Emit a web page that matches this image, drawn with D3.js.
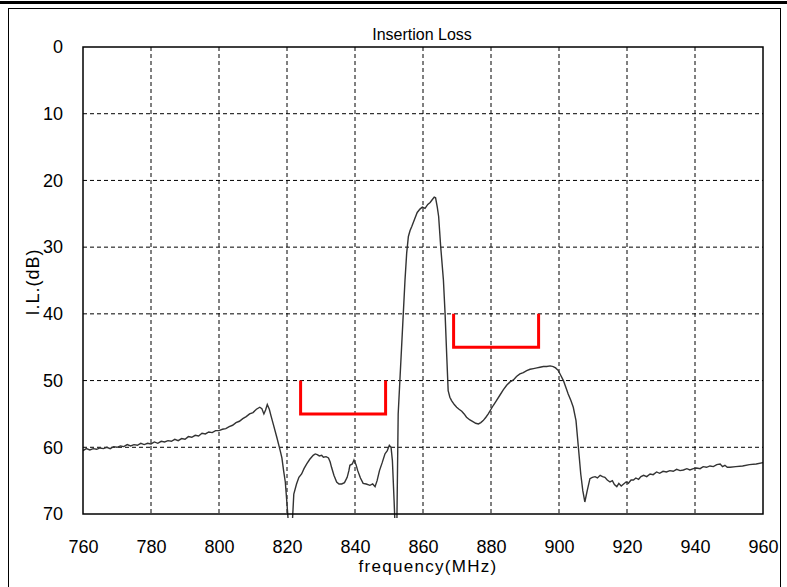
<!DOCTYPE html>
<html>
<head>
<meta charset="utf-8">
<script src="https://cdn.jsdelivr.net/npm/d3@7"></script>
<style>
  body { margin: 0; background: #fff; }
  svg text { font-family: "Liberation Sans", Arial, sans-serif; }
</style>
</head>
<body>
<svg width="787" height="587"></svg>
<script>
// frequency (MHz) and insertion loss (dB)
var freq = [760, 761, 762, 763, 764, 765, 766, 767, 768, 769, 770, 771, 772, 773, 774, 775, 776, 777, 778, 779,
  780, 781, 782, 783, 784, 785, 786, 787, 788, 789, 790, 791, 792, 793, 794, 795, 796, 797, 798, 799,
  800, 801, 802, 803, 804, 805, 806, 807, 808, 809, 810, 811, 812, 812.6, 813.2, 813.7, 814.2, 814.8, 815.3, 816,
  817, 818, 818.5, 819, 819.5, 820, 820.5, 821.5, 822, 822.8, 823.5, 824.3, 825, 825.8, 826.7, 827.7, 828.3, 828.9, 829.5, 830.2,
  830.7, 831.5, 832.2, 832.7, 833.1, 833.8, 834.6, 835.3, 836.1, 836.9, 837.7, 838.2, 838.5, 839.2, 839.7, 840.3, 840.8, 841.6, 842.4, 843.3,
  844.4, 845.2, 845.9, 846.5, 847.2, 848, 848.8, 849.5, 850.1, 850.6, 851, 851.5, 851.8, 852.3, 852.7, 853.2, 853.7, 854.2, 854.7, 855.2,
  855.7, 856.2, 856.7, 857.6, 858.3, 859.1, 859.8, 860.6, 861.4, 862.1, 862.7, 863.3, 863.7, 864.2, 864.6, 865.2, 866, 866.5, 867, 867.4,
  867.9, 868.4, 869.2, 869.9, 870.6, 871.4, 872.1, 872.8, 873.8, 874.8, 875.5, 876.3, 877, 877.7, 878.5, 879.2, 880, 880.7, 881.6, 882.6,
  883.6, 884.6, 885.6, 886.6, 887.5, 888.5, 889.5, 890.5, 891.5, 892.5, 893.5, 894.4, 895.4, 896.4, 897.4, 898.3, 899, 899.8, 900.5, 901.3,
  902, 902.7, 903.5, 904.2, 905, 905.7, 906.4, 907, 907.6, 908.3, 909.1, 909.8, 910.6, 911.3, 912.1, 912.8, 913.5, 914.2, 915, 915.7,
  916.3, 917, 917.6, 918.3, 919, 919.7, 920.4, 921.2, 921.9, 922.6, 923.4, 924.1, 924.9, 925.8, 926.8, 927.7, 928.7, 929.6, 930.6, 931.6,
  932.6, 933.6, 934.6, 935.6, 936.6, 937.6, 938.5, 939.5, 940.5, 941.5, 942.4, 943.4, 944.4, 945.4, 946.4, 947.4, 948.1, 948.8, 949.5, 950.3,
  952, 954, 956, 958, 960]
var il = [60.5, 60.2, 60.4, 60.2, 60.3, 60.1, 60.2, 60.0, 60.2, 59.9, 60.0, 59.8, 59.9, 59.6, 59.8, 59.6, 59.7, 59.4, 59.6, 59.4,
  59.5, 59.2, 59.4, 59.1, 59.2, 59.0, 59.1, 58.8, 59.0, 58.7, 58.8, 58.4, 58.5, 58.2, 58.3, 57.9, 58.0, 57.7, 57.8, 57.5,
  57.5, 57.3, 57.2, 56.9, 56.7, 56.3, 56.1, 55.7, 55.4, 55.0, 54.8, 54.3, 54.0, 54.2, 55.0, 54.4, 53.6, 54.3, 55.3, 56.6,
  58.5, 60.5, 61.6, 63.5, 65.2, 68.5, 72, 72, 67, 65.5, 64.5, 64.0, 63.2, 62.5, 61.8, 61.2, 61.0, 61.1, 61.3, 61.2,
  61.5, 61.4, 61.6, 62.2, 63.0, 64.2, 65.2, 65.5, 65.5, 65.3, 64.5, 63.5, 62.7, 62.5, 61.9, 62.6, 63.5, 64.6, 65.4, 65.5,
  65.7, 65.5, 65.9, 65.0, 63.5, 62.3, 61.0, 60.5, 59.7, 60.0, 62, 68, 72, 72, 55, 50, 45, 40, 35, 30.9,
  28.4, 27.5, 26.9, 25.7, 24.8, 24.3, 24.0, 24.2, 23.6, 23.3, 22.9, 22.5, 22.6, 24.0, 25.4, 29.9, 34.9, 40, 46.5, 51.5,
  52.5, 53.0, 53.6, 54.0, 54.3, 54.6, 55.0, 55.5, 55.9, 56.2, 56.4, 56.5, 56.3, 56.0, 55.5, 55.0, 54.3, 53.7, 53.0, 52.2,
  51.4, 50.7, 50.2, 49.9, 49.4, 49.0, 48.8, 48.5, 48.3, 48.2, 48.1, 48.0, 47.9, 47.9, 47.8, 47.9, 48.1, 48.5, 49.2, 50.0,
  51.0, 52.0, 53.0, 54.0, 56.0, 60.0, 64.0, 66.5, 68.2, 66.5, 64.7, 64.5, 64.4, 64.6, 64.2, 64.4, 64.5, 64.9, 65.2, 65.0,
  65.6, 65.9, 65.4, 65.8, 65.5, 65.2, 65.4, 64.9, 64.9, 64.6, 64.8, 64.4, 64.2, 64.4, 64.0, 64.1, 63.7, 63.9, 63.6, 63.7,
  63.5, 63.6, 63.3, 63.5, 63.4, 63.2, 63.4, 63.2, 63.1, 63.2, 62.9, 63.0, 62.8, 62.9, 62.6, 62.5, 62.9, 62.7, 63.0, 63.0,
  62.9, 62.8, 62.6, 62.5, 62.3]

// red spec brackets: [start MHz, end MHz, top dB, bottom dB]
var bandStart = [824, 869]
var bandEnd = [849, 894]
var bandTop = [50, 40]
var bandBottom = [55, 45]

var xTicks = [760, 780, 800, 820, 840, 860, 880, 900, 920, 940, 960]
var yTicks = [0, 10, 20, 30, 40, 50, 60, 70]

var svg = d3.select('svg')
var pLeft = 83, pRight = 763, pTop = 47, pBottom = 514

var x = d3.scaleLinear().domain([760, 960]).range([pLeft, pRight])
var y = d3.scaleLinear().domain([0, 70]).range([pTop, pBottom])

// outer frame
svg.append('line').attr('x1', 0).attr('x2', 787).attr('y1', 2.5).attr('y2', 2.5)
  .attr('stroke', '#000').attr('stroke-width', 3)
svg.append('rect').attr('x', 8.5).attr('y', 8.5).attr('width', 772).attr('height', 600)
  .attr('fill', 'none').attr('stroke', '#000').attr('stroke-width', 1)

// grid
svg.append('g').selectAll('line').data(xTicks.slice(1, -1)).enter().append('line')
  .attr('x1', d => x(d)).attr('x2', d => x(d)).attr('y1', pTop).attr('y2', pBottom)
  .attr('stroke', '#000').attr('stroke-width', 1).attr('stroke-dasharray', '4,3')
svg.append('g').selectAll('line').data(yTicks.slice(1, -1)).enter().append('line')
  .attr('x1', pLeft).attr('x2', pRight).attr('y1', d => y(d)).attr('y2', d => y(d))
  .attr('stroke', '#000').attr('stroke-width', 1).attr('stroke-dasharray', '4,3')

// axes (labels only)
var xAxis = svg.append('g').attr('transform', 'translate(0,' + (pBottom + 26) + ')')
  .call(d3.axisBottom(x).tickValues(xTicks).tickSize(0).tickPadding(0))
xAxis.select('.domain').remove()
xAxis.selectAll('text').attr('font-size', 18).attr('fill', '#000')

var yAxis = svg.append('g').attr('transform', 'translate(' + (pLeft - 20) + ',0)')
  .call(d3.axisLeft(y).tickValues(yTicks).tickSize(0).tickPadding(0))
yAxis.select('.domain').remove()
yAxis.selectAll('text').attr('font-size', 18).attr('fill', '#000')

// curve, clipped a few px below the bottom axis
svg.append('clipPath').attr('id', 'clip').append('rect')
  .attr('x', pLeft).attr('y', pTop).attr('width', pRight - pLeft + 2).attr('height', pBottom - pTop + 4)
var line = d3.line().x(d => x(d[0])).y(d => y(d[1]))
svg.append('path').datum(d3.zip(freq, il))
  .attr('d', line).attr('clip-path', 'url(#clip)')
  .attr('fill', 'none').attr('stroke', '#333').attr('stroke-width', 1.4)

// plot border
svg.append('rect').attr('x', pLeft).attr('y', pTop).attr('width', pRight - pLeft).attr('height', pBottom - pTop)
  .attr('fill', 'none').attr('stroke', '#000').attr('stroke-width', 1.5)

// spec brackets
svg.append('g').selectAll('path').data(bandStart).enter().append('path')
  .attr('d', (d, i) => 'M' + x(d) + ',' + y(bandTop[i]) + 'V' + y(bandBottom[i]) +
    'H' + x(bandEnd[i]) + 'V' + y(bandTop[i]))
  .attr('fill', 'none').attr('stroke', '#ff0000').attr('stroke-width', 3)

// titles
svg.append('text').attr('x', 422).attr('y', 40).attr('text-anchor', 'middle')
  .attr('font-size', 16).text('Insertion Loss')
svg.append('text').attr('x', 428).attr('y', 572).attr('text-anchor', 'middle')
  .attr('font-size', 17).attr('letter-spacing', 1.3).text('frequency(MHz)')
svg.append('text').attr('transform', 'translate(39,282) rotate(-90)').attr('text-anchor', 'middle')
  .attr('font-size', 18).attr('letter-spacing', 1).text('I.L.(dB)')
</script>
</body>
</html>
